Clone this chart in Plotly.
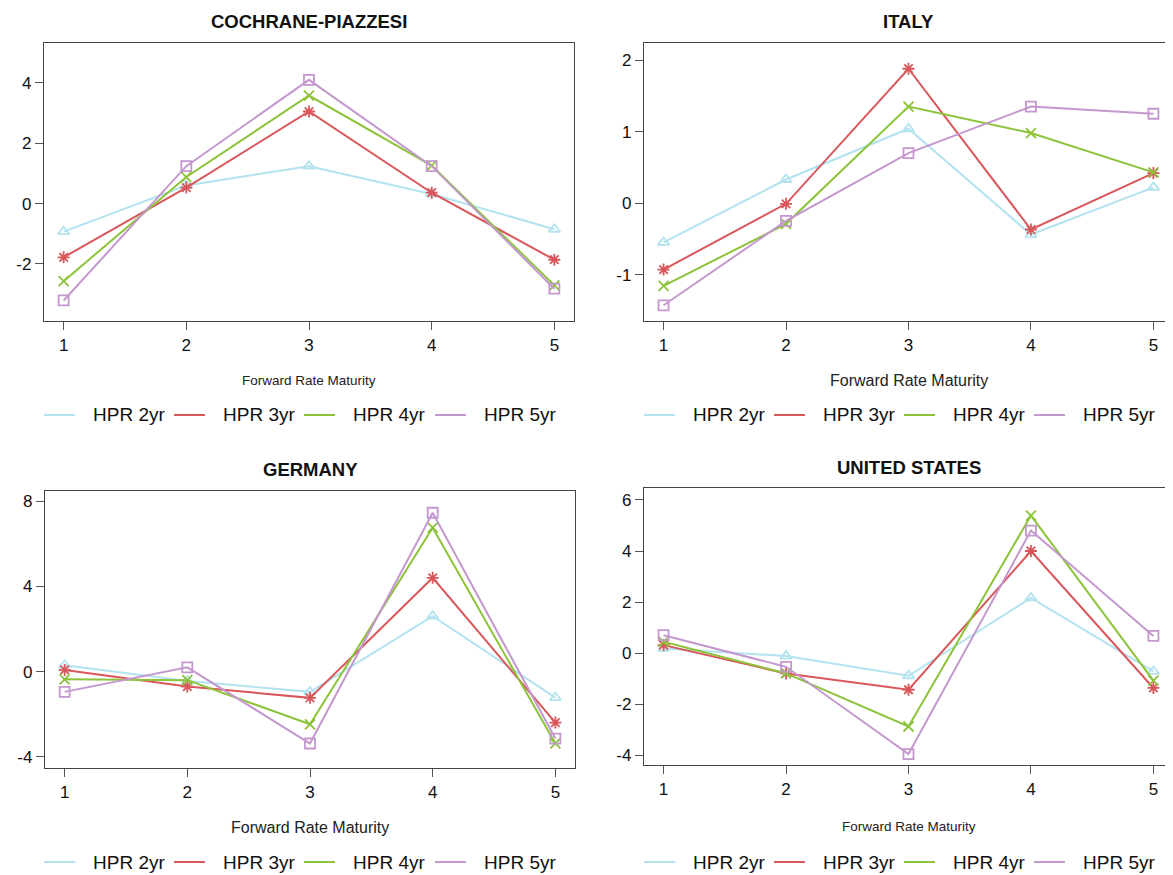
import plotly.graph_objects as go

W, H = 1173, 875
OFF = 8  # page body margin
FW, FH = W - OFF, H - OFF

maturity = [1, 2, 3, 4, 5]
series_names = ["HPR 2yr", "HPR 3yr", "HPR 4yr", "HPR 5yr"]
series_colors = ["#B3E3EF", "#D9575B", "#8DC33A", "#C497CF"]
series_symbols = ["triangle-up-open", "asterisk-open", "x-thin-open", "square-open"]

panel_titles = ["COCHRANE-PIAZZESI", "ITALY", "GERMANY", "UNITED STATES"]

cp_hpr2 = [-0.93, 0.60, 1.24, 0.32, -0.85]
cp_hpr3 = [-1.78, 0.53, 3.05, 0.36, -1.86]
cp_hpr4 = [-2.57, 0.88, 3.58, 1.26, -2.71]
cp_hpr5 = [-3.21, 1.24, 4.10, 1.24, -2.82]

it_hpr2 = [-0.55, 0.33, 1.04, -0.44, 0.22]
it_hpr3 = [-0.93, -0.01, 1.88, -0.37, 0.42]
it_hpr4 = [-1.16, -0.29, 1.35, 0.98, 0.43]
it_hpr5 = [-1.43, -0.25, 0.70, 1.35, 1.25]

de_hpr2 = [0.30, -0.44, -0.95, 2.60, -1.22]
de_hpr3 = [0.08, -0.70, -1.23, 4.40, -2.39]
de_hpr4 = [-0.36, -0.40, -2.47, 6.75, -3.37]
de_hpr5 = [-0.95, 0.20, -3.37, 7.45, -3.14]

us_hpr2 = [0.18, -0.12, -0.89, 2.16, -0.72]
us_hpr3 = [0.31, -0.80, -1.44, 4.00, -1.37]
us_hpr4 = [0.44, -0.80, -2.88, 5.39, -1.08]
us_hpr5 = [0.70, -0.54, -3.96, 4.80, 0.67]

panel_data = [
    [cp_hpr2, cp_hpr3, cp_hpr4, cp_hpr5],
    [it_hpr2, it_hpr3, it_hpr4, it_hpr5],
    [de_hpr2, de_hpr3, de_hpr4, de_hpr5],
    [us_hpr2, us_hpr3, us_hpr4, us_hpr5],
]
y_ranges = [[-3.89, 5.32], [-1.65, 2.24], [-4.52, 8.47], [-4.39, 6.47]]
y_ticks = [[-2, 0, 2, 4], [-1, 0, 1, 2], [-4, 0, 4, 8], [-4, -2, 0, 2, 4, 6]]
x_title = "Forward Rate Maturity"

# pixel boxes in the window: (left, right, top, bottom)
boxes = [(44, 574, 43, 321), (644, 1173, 43, 321), (45, 575, 491, 768), (644, 1173, 488, 765)]
title_y = [22, 22, 470, 467]
axis_title_y = [380, 380, 827, 826]
axis_title_size = [13.5, 16, 16, 13.5]
legend_y = [415, 415, 862, 862]
legend_text_x = [[92, 222, 352, 483], [692, 822, 952, 1082], [92, 222, 352, 483], [692, 822, 952, 1082]]

FONT = "Liberation Sans, Arial, sans-serif"

def px(x):
    return min(1.0, (x - OFF) / FW)

def py(y):
    return 1 - (y - OFF) / FH

def fmt(v):
    return str(v)  # plain hyphen-minus like the reference

fig = go.Figure()
layout = dict(
    width=FW, height=FH,
    margin=dict(l=0, r=0, t=0, b=0),
    paper_bgcolor="white", plot_bgcolor="white",
    showlegend=False,
    font=dict(family=FONT, color="#222222"),
)
annotations = []
shapes = []

for i in range(4):
    l, r, t, b = boxes[i]
    xa = "xaxis" if i == 0 else f"xaxis{i+1}"
    ya = "yaxis" if i == 0 else f"yaxis{i+1}"
    xref = "x" if i == 0 else f"x{i+1}"
    yref = "y" if i == 0 else f"y{i+1}"
    layout[xa] = dict(
        domain=[px(l), px(r)], anchor=yref, range=[0.84, 5.16],
        tickvals=maturity, ticktext=[fmt(v) for v in maturity],
        ticks="outside", ticklen=8, tickcolor="#555555",
        showline=True, mirror=True, linecolor="#444444", linewidth=1.3,
        showgrid=False, zeroline=False, tickfont=dict(size=17, color="#111111"),
        fixedrange=True,
    )
    layout[ya] = dict(
        domain=[py(b), py(t)], anchor=xref, range=y_ranges[i],
        tickvals=y_ticks[i], ticktext=[fmt(v) for v in y_ticks[i]],
        ticks="outside", ticklen=8, tickcolor="#555555",
        showline=True, mirror=True, linecolor="#444444", linewidth=1.3,
        showgrid=False, zeroline=False, tickfont=dict(size=17, color="#111111"),
        fixedrange=True,
    )
    for s in range(4):
        fig.add_trace(go.Scatter(
            x=maturity, y=panel_data[i][s], mode="lines+markers",
            name=series_names[s], xaxis=xref, yaxis=yref,
            line=dict(color=series_colors[s], width=2),
            marker=dict(symbol=series_symbols[s], size=10, color=series_colors[s],
                        line=dict(color=series_colors[s], width=1.8)),
            cliponaxis=False,
        ))
    annotations.append(dict(
        x=px((l + r) / 2), y=py(title_y[i]), xref="paper", yref="paper",
        text="<b>" + panel_titles[i] + "</b>", showarrow=False,
        xanchor="center", yanchor="middle", font=dict(size=18.5, color="#111111"),
    ))
    annotations.append(dict(
        x=px((l + r) / 2), y=py(axis_title_y[i]), xref="paper", yref="paper",
        text=x_title, showarrow=False, xanchor="center", yanchor="middle",
        font=dict(size=axis_title_size[i], color="#222222"),
    ))
    for s in range(4):
        tx = legend_text_x[i][s]
        shapes.append(dict(
            type="line", xref="paper", yref="paper",
            x0=px(tx - 48), x1=px(tx - 17), y0=py(legend_y[i]), y1=py(legend_y[i]),
            line=dict(color=series_colors[s], width=2),
        ))
        annotations.append(dict(
            x=px(tx - 1), y=py(legend_y[i]), xref="paper", yref="paper",
            text=series_names[s], showarrow=False, xanchor="left", yanchor="middle",
            font=dict(size=19, color="#111111"),
        ))

layout["annotations"] = annotations
layout["shapes"] = shapes
fig.update_layout(**layout)
fig.write_html("out.html")
